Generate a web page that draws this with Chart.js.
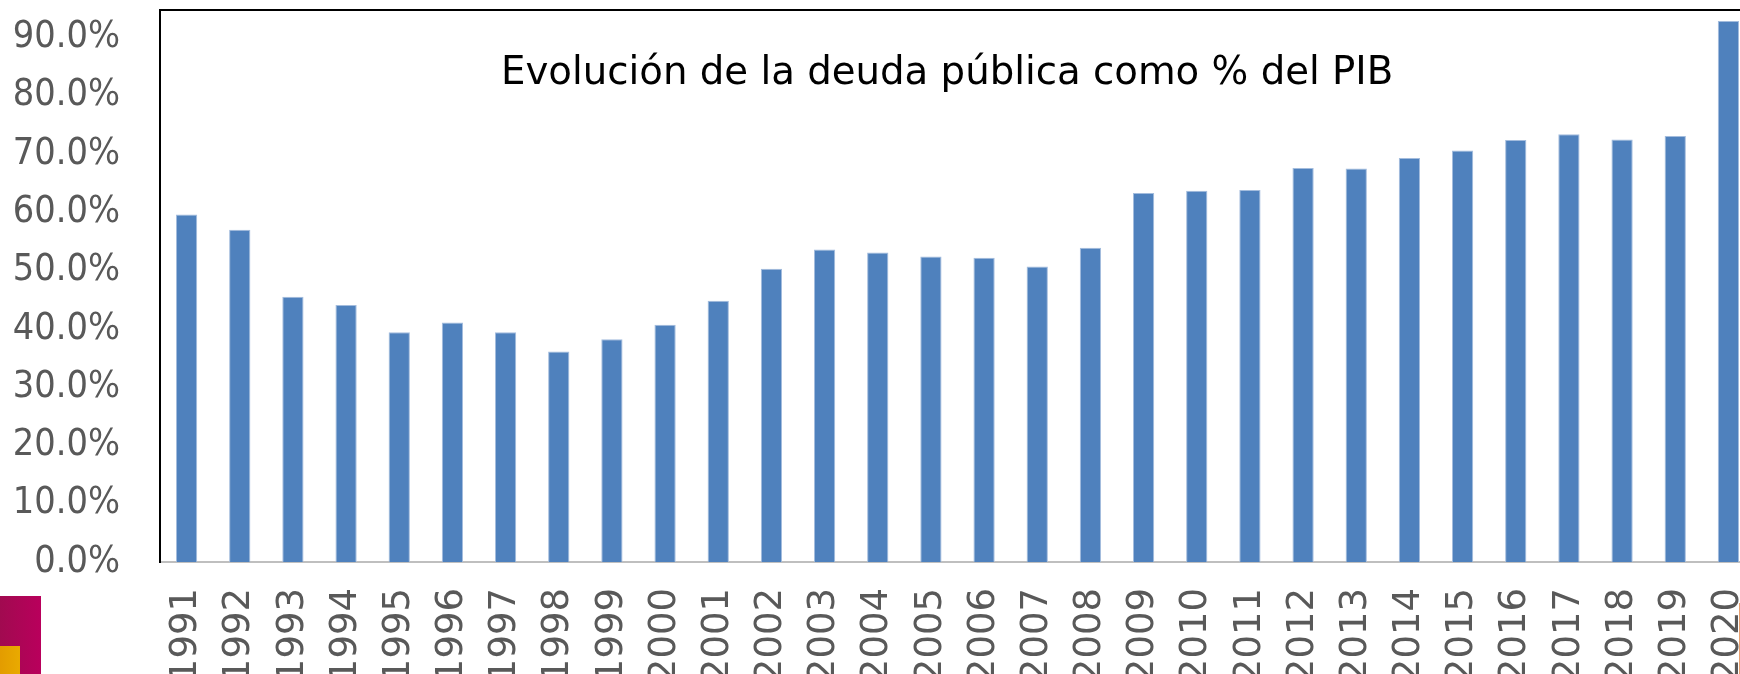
<!DOCTYPE html>
<html>
<head>
<meta charset="utf-8">
<script src="https://cdn.jsdelivr.net/npm/chart.js@4"></script>
<style>
  body { margin: 0; overflow: hidden; background: #fff; }
  #wrap { position: relative; width: 1755px; height: 674px; }
  .logo { position: absolute; }
</style>
</head>
<body>
<div id="wrap">
  <canvas id="myChart"></canvas>
  <div class="logo" style="left:0;top:596px;width:41px;height:78px;background:linear-gradient(to right,#a10a50,#b9005c);"></div>
  <div class="logo" style="left:0;top:646px;width:20px;height:28px;background:linear-gradient(to right,#e39c00,#e9aa00);"></div>
  <div class="logo" style="left:1739px;top:603px;width:1px;height:71px;background:#e8a070;"></div>
</div>
<script>
// años
const years = ['1991','1992','1993','1994','1995','1996','1997','1998','1999','2000',
               '2001','2002','2003','2004','2005','2006','2007','2008','2009','2010',
               '2011','2012','2013','2014','2015','2016','2017','2018','2019','2020'];

// deuda publica, % del PIB
const debtPct = [59.6, 57.0, 45.5, 44.1, 39.4, 41.1, 39.4, 36.1, 38.2, 40.7,
                 44.8, 50.3, 53.6, 53.1, 52.4, 52.2, 50.7, 53.9, 63.3, 63.7,
                 63.8, 67.6, 67.5, 69.3, 70.6, 72.4, 73.4, 72.5, 73.1, 92.8];

// eje y
const yTicks = [0, 10, 20, 30, 40, 50, 60, 70, 80, 90];
const yMax = 94.7;

const chartTitle = 'Evolución de la deuda pública como % del PIB';

// titulo dentro del area + borde superior
const insideTitle = {
    id: 'insideTitle',
    afterDraw(chart) {
        const ctx = chart.ctx;
        const a = chart.chartArea;
        ctx.save();
        ctx.strokeStyle = '#000';
        ctx.lineWidth = 2;
        ctx.beginPath();
        ctx.moveTo(a.left - 1, a.top);
        ctx.lineTo(a.right + 10, a.top);
        ctx.stroke();

        ctx.fillStyle = '#000';
        ctx.font = '38.7px "DejaVu Sans"';
        ctx.textAlign = 'center';
        ctx.textBaseline = 'alphabetic';
        ctx.fillText(chartTitle, a.left + a.width * 0.4935, 84);
        ctx.restore();
    }
};

const canvas = document.getElementById('myChart');
const ctx = canvas.getContext('2d');

const myChart = new Chart(ctx, {
    type: 'bar',
    data: {
        labels: years,
        datasets: [{
            data: debtPct,
            backgroundColor: '#4F81BD',
            borderColor: '#A3BCDD',
            borderWidth: 1,
            categoryPercentage: 1,
            barPercentage: 0.4
        }]
    },
    options: {
        responsive: true,
        maintainAspectRatio: false,
        animation: false,
        layout: {
            padding: { top: 10, right: 0, left: 0, bottom: 0 }
        },
        plugins: {
            legend: { display: false },
            title: { display: false },
            tooltip: { enabled: false }
        },
        scales: {
            x: {
                grid: { display: false, drawTicks: false },
                border: { color: '#BFBFBF', width: 2 },
                ticks: {
                    minRotation: 90,
                    maxRotation: 90,
                    padding: 26,
                    color: '#595959',
                    font: { family: '"DejaVu Sans"', size: 37 }
                },
                afterFit(scale) {
                    scale.height = 112;
                    scale.paddingLeft = 0;
                    scale.paddingRight = 0;
                }
            },
            y: {
                min: 0,
                max: yMax,
                grid: { display: false, drawTicks: false },
                border: { color: '#000', width: 2 },
                ticks: {
                    padding: 40,
                    color: '#595959',
                    font: { family: '"Liberation Sans Narrow", "DejaVu Sans Condensed", "Liberation Sans"', size: 37.5 },
                    callback: (v) => v.toFixed(1) + '%'
                },
                afterBuildTicks(scale) {
                    scale.ticks = yTicks.map(v => ({ value: v }));
                },
                afterFit(scale) {
                    scale.width = 160;
                    scale.paddingTop = 0;
                    scale.paddingBottom = 0;
                }
            }
        }
    },
    plugins: [insideTitle]
});
</script>
</body>
</html>
